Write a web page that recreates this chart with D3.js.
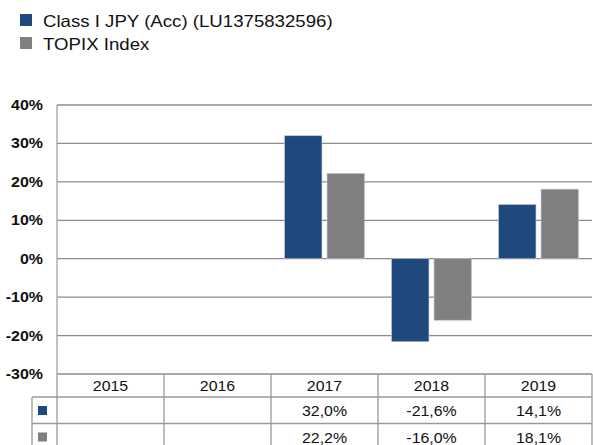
<!DOCTYPE html>
<html>
<head>
<meta charset="utf-8">
<script src="https://cdn.jsdelivr.net/npm/d3@7"></script>
<style>
  body { margin: 0; background: #fff; }
  text { font-family: "Liberation Sans", Arial, sans-serif; }
</style>
</head>
<body>
<div id="chart"></div>
<script>
// chart data
const years = ["2015", "2016", "2017", "2018", "2019"];
const seriesNames = ["Class I JPY (Acc) (LU1375832596)", "TOPIX Index"];
const fundValues = [null, null, 32.0, -21.6, 14.1];
const indexValues = [null, null, 22.2, -16.0, 18.1];
const yTicks = [-30, -20, -10, 0, 10, 20, 30, 40];
const colors = ["#1F497D", "#808080"];

const width = 593, height = 445;
const margin = { top: 105, right: 1, bottom: 71, left: 57 };

const svg = d3.select("#chart").append("svg")
    .attr("width", width)
    .attr("height", height);

// text in the reference is slightly wider than plain Arial, stretch it
function stretched(sel, x, y, sx) {
    return sel.attr("transform", `translate(${x},${y}) scale(${sx},1)`);
}

// legend
seriesNames.forEach((name, i) => {
    svg.append("rect")
        .attr("x", 20).attr("y", 14 + i * 23)
        .attr("width", 12).attr("height", 12)
        .attr("fill", colors[i]);
    stretched(svg.append("text"), 43, 27 + i * 23, 1.13)
        .attr("font-size", 16.5)
        .attr("fill", "#111")
        .text(name);
});

// scales
const x = d3.scaleBand()
    .domain(years)
    .range([margin.left, width - margin.right]);
const y = d3.scaleLinear()
    .domain([-30, 40])
    .range([height - margin.bottom, margin.top]);
const x1 = d3.scaleBand()
    .domain([0, 1])
    .range([0, x.bandwidth()])
    .paddingInner(0.12)
    .paddingOuter(0.32);

// gridlines
svg.append("g")
    .selectAll("line")
    .data(yTicks)
    .join("line")
    .attr("x1", margin.left).attr("x2", width - margin.right)
    .attr("y1", d => y(d)).attr("y2", d => y(d))
    .attr("stroke", "#8c8c8c")
    .attr("stroke-width", 1.3);

// left axis line
svg.append("line")
    .attr("x1", margin.left).attr("x2", margin.left)
    .attr("y1", y(40)).attr("y2", y(-30))
    .attr("stroke", "#a0a0a0")
    .attr("stroke-width", 1.3);

// y labels
svg.append("g")
    .selectAll("text")
    .data(yTicks)
    .join("text")
    .attr("transform", d => `translate(43,${y(d) + 5}) scale(1.1,1)`)
    .attr("text-anchor", "end")
    .attr("font-size", 14.5)
    .attr("font-weight", "bold")
    .attr("fill", "#111")
    .text(d => d + "%");

// bars
const series = [fundValues, indexValues];
series.forEach((vals, s) => {
    svg.append("g")
        .selectAll("rect")
        .data(years.map((yr, i) => ({ yr, v: vals[i] })).filter(d => d.v !== null))
        .join("rect")
        .attr("x", d => x(d.yr) + x1(s))
        .attr("width", x1.bandwidth())
        .attr("y", d => y(Math.max(0, d.v)))
        .attr("height", d => Math.abs(y(d.v) - y(0)))
        .attr("fill", colors[s])
        .attr("stroke", "#b8c4d6")
        .attr("stroke-width", 0.6);
});

// data table
const fmt = v => v === null ? "" : v.toFixed(1).replace(".", ",") + "%";
const tableTop = y(-30);
const rowY = [tableTop, tableTop + 23, tableTop + 49.5];
const labelLeft = 32;
const table = svg.append("g");
const lineColor = "#9a9a9a";

// horizontal table lines
[1, 2].forEach(r => {
    table.append("line")
        .attr("x1", labelLeft).attr("x2", width - margin.right)
        .attr("y1", rowY[r]).attr("y2", rowY[r])
        .attr("stroke", lineColor).attr("stroke-width", 1.3);
});
// vertical table lines
years.forEach(yr => {
    table.append("line")
        .attr("x1", x(yr)).attr("x2", x(yr))
        .attr("y1", rowY[0]).attr("y2", height)
        .attr("stroke", lineColor).attr("stroke-width", 1.3);
});
table.append("line")
    .attr("x1", width - margin.right).attr("x2", width - margin.right)
    .attr("y1", rowY[0]).attr("y2", height)
    .attr("stroke", lineColor).attr("stroke-width", 1.3);
table.append("line")
    .attr("x1", labelLeft).attr("x2", labelLeft)
    .attr("y1", rowY[1]).attr("y2", height)
    .attr("stroke", lineColor).attr("stroke-width", 1.3);

// header
table.selectAll(".year")
    .data(years)
    .join("text")
    .attr("transform", d => `translate(${x(d) + x.bandwidth() / 2},${rowY[0] + 17}) scale(1.06,1)`)
    .attr("text-anchor", "middle")
    .attr("font-size", 15)
    .attr("fill", "#111")
    .text(d => d);

// rows
series.forEach((vals, s) => {
    table.append("rect")
        .attr("x", 38).attr("y", rowY[s + 1] + 9)
        .attr("width", 9).attr("height", 9)
        .attr("fill", colors[s]);
    table.selectAll(".v" + s)
        .data(years.map((yr, i) => ({ yr, v: vals[i] })))
        .join("text")
        .attr("transform", d => `translate(${x(d.yr) + x.bandwidth() / 2},${rowY[s + 1] + 19}) scale(1.06,1)`)
        .attr("text-anchor", "middle")
        .attr("font-size", 15)
        .attr("fill", "#111")
        .text(d => fmt(d.v));
});
</script>
</body>
</html>
